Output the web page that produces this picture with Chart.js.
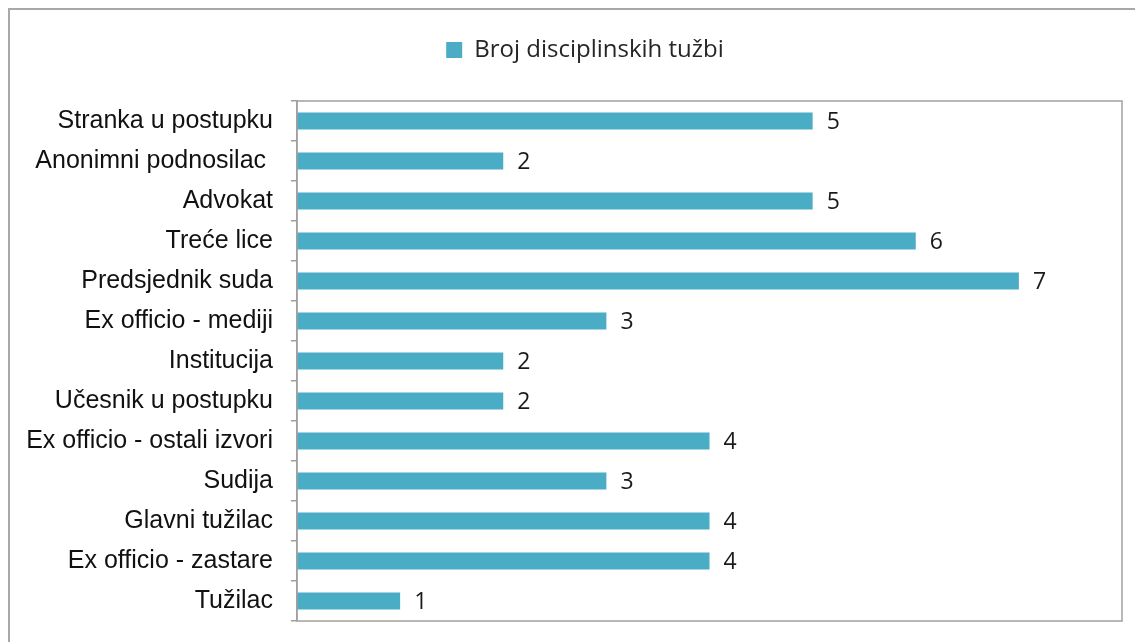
<!DOCTYPE html>
<html>
<head>
<meta charset="utf-8">
<script src="https://cdn.jsdelivr.net/npm/chart.js@4"></script>
<style>
  html, body { margin: 0; padding: 0; background: #fff; }
  #wrap { width: 1135px; height: 642px; }
</style>
</head>
<body>
<div id="wrap"><canvas id="myChart" width="1135" height="642"></canvas></div>
<script>
// podaci
var categories = ['Stranka u postupku', 'Anonimni podnosilac ', 'Advokat', 'Treće lice', 'Predsjednik suda',
    'Ex officio - mediji', 'Institucija', 'Učesnik u postupku', 'Ex officio - ostali izvori', 'Sudija',
    'Glavni tužilac', 'Ex officio - zastare', 'Tužilac'];
var values = [5, 2, 5, 6, 7, 3, 2, 2, 4, 3, 4, 4, 1];
var seriesName = 'Broj disciplinskih tužbi';

var barColor = '#4BACC6';
var lineColor = '#a0a0a0';

// razmak ispod legende i pomak udesno
var legendGap = {
    id: 'legendGap',
    beforeInit: function(chart) {
        var origFit = chart.legend.fit;
        chart.legend.fit = function() {
            origFit.bind(chart.legend)();
            this.height += 29;
        };
    },
    afterLayout: function(chart) {
        chart.legend.left += 24;
        chart.legend.right += 24;
    }
};

// okvir slike i okvir grafikona
var framePlugin = {
    id: 'frame',
    beforeDraw: function(chart) {
        var c = chart.ctx;
        c.save();
        c.fillStyle = '#fff';
        c.fillRect(0, 0, chart.width, chart.height);
        c.strokeStyle = '#a8a8a8';
        c.lineWidth = 2;
        c.beginPath();
        c.moveTo(9, chart.height + 5);
        c.lineTo(9, 9);
        c.lineTo(chart.width + 5, 9);
        c.stroke();
        c.restore();
    },
    afterDatasetsDraw: function(chart) {
        var a = chart.chartArea;
        var c = chart.ctx;
        c.save();
        c.strokeStyle = lineColor;
        c.lineWidth = 1.5;
        c.strokeRect(a.left, a.top, a.right - a.left, a.bottom - a.top);
        // vrijednosti pored stubaca
        c.fillStyle = '#1a1a1a';
        c.font = '23px "Open Sans"';
        c.textBaseline = 'middle';
        c.textAlign = 'left';
        chart.getDatasetMeta(0).data.forEach(function(bar, i) {
            c.fillText(String(values[i]), bar.x + 14, bar.y + 1);
        });
        c.restore();
    }
};

var ctx = document.getElementById('myChart').getContext('2d');
var myChart = new Chart(ctx, {
    type: 'bar',
    data: {
        labels: categories,
        datasets: [{
            label: seriesName,
            data: values,
            backgroundColor: barColor,
            borderWidth: 0,
            barPercentage: 0.85,
            categoryPercentage: 0.5
        }]
    },
    options: {
        indexAxis: 'y',
        responsive: false,
        animation: false,
        layout: { padding: { left: 0, right: 13, top: 18, bottom: 21 } },
        plugins: {
            legend: {
                position: 'top',
                labels: {
                    boxWidth: 16,
                    boxHeight: 16,
                    padding: 20,
                    color: '#262626',
                    font: { family: 'Open Sans', size: 24 }
                }
            },
            tooltip: { enabled: false }
        },
        scales: {
            x: {
                display: false,
                min: 0,
                max: 8
            },
            y: {
                afterFit: function(scale) {
                    scale.width = 297;
                    scale.paddingTop = 0;
                    scale.paddingBottom = 0;
                },
                grid: {
                    display: true,
                    drawOnChartArea: false,
                    drawTicks: true,
                    tickLength: 6,
                    color: lineColor,
                    lineWidth: 1.5
                },
                border: { display: true, color: lineColor, width: 1.5 },
                ticks: {
                    padding: 18,
                    color: '#111',
                    font: { family: 'Liberation Sans', size: 25 }
                }
            }
        }
    },
    plugins: [legendGap, framePlugin]
});
</script>
</body>
</html>
